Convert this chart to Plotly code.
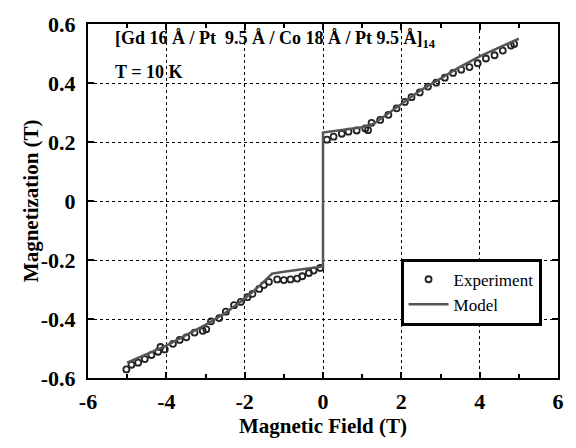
import plotly.graph_objects as go

# Experiment data (field T, magnetization T)
exp_field = [-5.02, -4.89, -4.72, -4.55, -4.38, -4.21, -4.15, -4.04, -3.83, -3.66, -3.49,
             -3.28, -3.07, -2.98, -2.86, -2.65, -2.48, -2.27, -2.10, -1.93, -1.80,
             -1.63, -1.51, -1.38, -1.17, -1.00, -0.83, -0.66, -0.53, -0.36, -0.24, -0.07,
             0.10, 0.27, 0.48, 0.65, 0.86, 1.08, 1.15, 1.24, 1.46, 1.67, 1.88, 2.09, 2.26,
             2.47, 2.68, 2.89, 3.11, 3.32, 3.53, 3.74, 3.95, 4.16, 4.38, 4.59, 4.80, 4.88]
exp_mag = [-0.571, -0.555, -0.548, -0.536, -0.522, -0.511, -0.495, -0.503, -0.484, -0.471, -0.462,
           -0.446, -0.440, -0.435, -0.408, -0.397, -0.375, -0.353, -0.342, -0.326, -0.315,
           -0.298, -0.285, -0.274, -0.266, -0.268, -0.266, -0.263, -0.255, -0.244, -0.236, -0.227,
           0.208, 0.218, 0.228, 0.235, 0.239, 0.246, 0.240, 0.265, 0.275, 0.292, 0.314, 0.336, 0.352,
           0.368, 0.388, 0.401, 0.418, 0.434, 0.445, 0.454, 0.467, 0.483, 0.494, 0.510, 0.527, 0.532]

# Model curve
model_field = [-5.0, -4.5, -4.0, -3.5, -3.0, -2.5, -2.0, -1.6, -1.3, -1.0, -0.5, 0.0,
               0.0, 0.5, 1.0, 1.3, 1.6, 2.0, 2.5, 3.0, 3.5, 4.0, 4.5, 5.0]
model_mag = [-0.548, -0.52, -0.49, -0.455, -0.42, -0.38, -0.331, -0.285, -0.246, -0.240, -0.232, -0.222,
             0.232, 0.240, 0.250, 0.262, 0.290, 0.330, 0.376, 0.415, 0.455, 0.490, 0.520, 0.550]

x_ticks = [-6, -4, -2, 0, 2, 4, 6]
x_minor_ticks = [-5, -3, -1, 1, 3, 5]
y_ticks = [-0.6, -0.4, -0.2, 0, 0.2, 0.4, 0.6]
y_tick_text = ["-0.6", "-0.4", "-0.2", "0", "0.2", "0.4", "0.6"]

serif = "Liberation Serif"
tick_font = dict(family=serif, size=22, color="black", weight="bold")
title_font = dict(family=serif, size=21, color="black", weight="bold")

fig = go.Figure()
fig.add_trace(go.Scatter(
    x=exp_field, y=exp_mag, mode="markers", name="Experiment",
    marker=dict(symbol="circle-open", size=6, color="#222222", line=dict(width=1.8, color="#222222")),
))
fig.add_trace(go.Scatter(
    x=model_field, y=model_mag, mode="lines", name="Model",
    line=dict(color="#555555", width=2.5),
))

fig.update_layout(
    font=dict(family=serif, size=21, color="black", weight="bold"),
    xaxis=dict(
        range=[-6, 6], tickmode="array", tickvals=x_ticks, ticktext=[str(v) for v in x_ticks],
        showline=True, linecolor="black", linewidth=2, mirror="allticks",
        ticks="inside", ticklen=6, tickwidth=1.5, tickcolor="black",
        minor=dict(ticks="inside", ticklen=4, tickwidth=1.5, tickcolor="black",
                   tickmode="array", tickvals=x_minor_ticks),
        showgrid=True, gridcolor="black", griddash="dot", gridwidth=1,
        zeroline=False,
        tickfont=tick_font, ticklabelstandoff=3,
        title=dict(text="Magnetic Field (T)", font=title_font, standoff=4),
    ),
    yaxis=dict(
        range=[-0.6, 0.6], tickmode="array", tickvals=y_ticks, ticktext=y_tick_text,
        showline=True, linecolor="black", linewidth=2, mirror="allticks",
        ticks="inside", ticklen=6, tickwidth=1.5, tickcolor="black",
        showgrid=True, gridcolor="black", griddash="dot", gridwidth=1,
        zeroline=False,
        tickfont=tick_font, ticklabelstandoff=6,
    ),
)

# y-axis title placed as rotated annotation (sits closer to the tick labels, as in the original)
fig.add_annotation(
    x=-0.121, y=0.5, xref="paper", yref="paper", xanchor="center", yanchor="middle",
    text="Magnetization (T)", showarrow=False, textangle=-90,
    font=title_font,
)

fig.add_annotation(
    x=0.053, y=0.955, xref="paper", yref="paper", xanchor="left", yanchor="middle",
    text="[Gd 16 Å / Pt  9.5 Å / Co 18 Å / Pt 9.5 Å]<sub>14</sub>", showarrow=False,
    font=dict(family=serif, size=18, color="black", weight="bold"),
)
fig.add_annotation(
    x=0.053, y=0.865, xref="paper", yref="paper", xanchor="left", yanchor="middle",
    text="T = 10 K", showarrow=False,
    font=dict(family=serif, size=18, color="black", weight="bold"),
)

fig.update_layout(
    width=576, height=448,
    margin=dict(l=88, r=16, t=13, b=70),
    paper_bgcolor="white", plot_bgcolor="white",
    showlegend=True,
    legend=dict(
        x=0.665, y=0.337, xanchor="left", yanchor="top",
        bgcolor="white", bordercolor="black", borderwidth=3,
        font=dict(family=serif, size=17, color="black", weight="normal"),
        itemwidth=40, tracegroupgap=0,
    ),
)

fig.write_html("out.html")
